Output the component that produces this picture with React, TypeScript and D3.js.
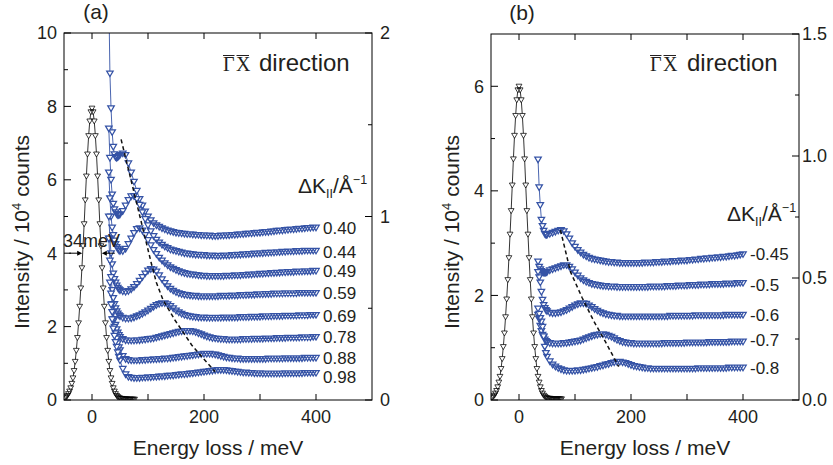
import React from 'react';
import * as d3 from 'd3';

const FONT = '"Liberation Sans", Arial, Helvetica, sans-serif';
const SERIF = '"Liberation Serif", "Times New Roman", serif';
const TEXT = '#231f20';
const BLUE = '#3553a6';

// ---------- data ----------
const elasticE = d3.range(-48, 77, 2);
const elasticA = [0.06,0.09,0.12,0.17,0.24,0.33,0.45,0.6,0.8,1.05,1.35,1.7,2.1,2.55,3.05,3.6,4.2,4.8,5.45,6.1,6.7,7.2,7.6,7.85,
  7.95,
  7.85,7.6,7.2,6.7,6.1,5.45,4.8,4.2,3.6,3.05,2.55,2.1,1.7,1.35,1.05,0.8,0.6,0.45,0.33,0.24,0.17,0.12,0.09,0.06,
  0.05,0.04,0.04,0.03,0.03,0.03,0.03,0.02,0.02,0.02,0.02,0.02,0.02,0.02];
const elasticB = [0.05,0.07,0.09,0.13,0.18,0.25,0.34,0.45,0.6,0.79,1.02,1.28,1.59,1.93,2.3,2.72,3.17,3.62,4.11,4.61,5.06,5.44,5.74,5.93,
  6.0,
  5.93,5.74,5.44,5.06,4.61,4.11,3.62,3.17,2.72,2.3,1.93,1.59,1.28,1.02,0.79,0.6,0.45,0.34,0.25,0.18,0.13,0.09,0.07,0.05,
  0.04,0.03,0.03,0.03,0.02,0.02,0.02,0.02,0.02,0.02,0.02,0.02,0.02,0.02];

const gridA = [30,32,34,36,38,40,42,44,46,48,50, ...d3.range(55, 401, 5)];
const gridB = [34,36,38,40,42,44,46,48,50, ...d3.range(55, 401, 5)];

const labelsA = ['0.40','0.44','0.49','0.59','0.69','0.78','0.88','0.98'];
const curveA040 = [11.0,8.9,7.95,7.3,6.9,6.7,6.62,6.6,6.62,6.65,6.68,
  6.72,6.68,6.45,6.2,5.95,5.7,5.48,5.3,5.14,5.0,4.9,4.82,4.76,4.72,4.68,4.65,4.62,4.6,4.58,4.56,
  4.55,4.54,4.53,4.52,4.52,4.51,4.5,4.5,4.49,4.49,
  4.48,4.48,4.47,4.47,4.47,4.48,4.48,4.49,4.49,4.5,
  4.5,4.51,4.52,4.52,4.53,4.54,4.54,4.55,4.56,4.56,
  4.57,4.58,4.58,4.59,4.6,4.61,4.62,4.62,4.63,4.64,
  4.65,4.65,4.66,4.67,4.67,4.68,4.69,4.69,4.7,4.7];
const curveA044 = [7.4,6.6,6.0,5.6,5.35,5.2,5.12,5.07,5.04,5.04,5.06,
  5.15,5.3,5.45,5.55,5.56,5.48,5.32,5.12,4.93,4.76,4.6,4.47,4.37,4.29,4.23,4.18,4.14,4.1,4.08,4.06,
  4.04,4.02,4.0,3.99,3.98,3.97,3.96,3.96,3.95,3.95,
  3.94,3.94,3.94,3.93,3.93,3.93,3.94,3.94,3.94,3.95,
  3.95,3.96,3.96,3.97,3.97,3.98,3.98,3.99,3.99,4.0,
  4.0,4.01,4.01,4.02,4.02,4.03,4.03,4.04,4.04,4.05,
  4.05,4.05,4.06,4.06,4.06,4.07,4.07,4.07,4.07,4.07];
const curveA049 = [6.2,5.5,5.0,4.7,4.5,4.35,4.25,4.17,4.12,4.08,4.06,
  4.06,4.12,4.25,4.4,4.55,4.66,4.68,4.62,4.5,4.36,4.22,4.09,3.98,3.88,3.8,3.73,3.67,3.62,3.58,3.54,
  3.51,3.48,3.46,3.44,3.43,3.42,3.41,3.4,3.39,3.39,
  3.38,3.38,3.38,3.38,3.38,3.38,3.38,3.39,3.39,3.39,
  3.4,3.4,3.4,3.41,3.41,3.42,3.42,3.43,3.43,3.44,
  3.44,3.45,3.45,3.46,3.46,3.47,3.47,3.48,3.48,3.49,
  3.49,3.49,3.5,3.5,3.5,3.51,3.51,3.51,3.52,3.52];
const curveA059 = [5.0,4.4,4.0,3.7,3.45,3.3,3.2,3.12,3.06,3.02,2.99,
  2.96,2.95,2.97,3.02,3.08,3.16,3.25,3.35,3.45,3.53,3.57,3.56,3.5,3.4,3.29,3.19,3.1,3.03,2.98,2.94,
  2.91,2.89,2.87,2.86,2.85,2.84,2.84,2.83,2.83,2.83,
  2.83,2.83,2.83,2.83,2.83,2.84,2.84,2.84,2.84,2.85,
  2.85,2.85,2.86,2.86,2.86,2.87,2.87,2.87,2.88,2.88,
  2.88,2.89,2.89,2.89,2.9,2.9,2.9,2.9,2.91,2.91,
  2.91,2.91,2.91,2.92,2.92,2.92,2.92,2.92,2.92,2.92];
const curveA069 = [4.4,3.8,3.35,3.0,2.78,2.62,2.5,2.42,2.36,2.31,2.28,
  2.24,2.22,2.22,2.23,2.25,2.28,2.31,2.35,2.39,2.44,2.49,2.54,2.59,2.62,2.64,2.64,2.61,2.56,2.5,2.44,
  2.39,2.35,2.32,2.3,2.28,2.27,2.26,2.25,2.25,2.25,
  2.24,2.24,2.24,2.24,2.24,2.24,2.25,2.25,2.25,2.25,
  2.25,2.25,2.26,2.26,2.26,2.26,2.27,2.27,2.27,2.27,
  2.28,2.28,2.28,2.28,2.29,2.29,2.29,2.29,2.3,2.3,
  2.3,2.3,2.3,2.31,2.31,2.31,2.31,2.32,2.32,2.32];
const curveA078 = [null,3.2,2.9,2.62,2.4,2.2,2.05,1.93,1.84,1.77,1.72,
  1.66,1.63,1.62,1.62,1.62,1.63,1.63,1.64,1.65,1.66,1.67,1.68,1.7,1.72,1.74,1.76,1.78,1.8,1.82,1.84,
  1.86,1.87,1.88,1.88,1.88,1.87,1.85,1.82,1.79,1.76,
  1.73,1.71,1.69,1.68,1.67,1.66,1.66,1.65,1.65,1.65,
  1.65,1.65,1.65,1.66,1.66,1.66,1.66,1.67,1.67,1.67,
  1.67,1.68,1.68,1.68,1.68,1.69,1.69,1.69,1.69,1.7,
  1.7,1.7,1.7,1.7,1.71,1.71,1.71,1.71,1.72,1.72];
const curveA088 = [null,null,2.6,2.4,2.2,2.0,1.82,1.68,1.55,1.44,1.36,
  1.2,1.12,1.09,1.08,1.08,1.08,1.08,1.09,1.09,1.1,1.1,1.11,1.11,1.12,1.12,1.13,1.13,1.14,1.15,1.16,
  1.17,1.18,1.19,1.2,1.21,1.22,1.23,1.24,1.25,1.26,
  1.26,1.26,1.25,1.24,1.22,1.2,1.18,1.16,1.15,1.14,
  1.13,1.13,1.12,1.12,1.12,1.12,1.12,1.12,1.12,1.12,
  1.12,1.12,1.13,1.13,1.13,1.13,1.13,1.13,1.14,1.14,
  1.14,1.14,1.14,1.14,1.14,1.15,1.15,1.15,1.15,1.15];
const curveA098 = [null,null,null,2.2,1.95,1.75,1.58,1.45,1.3,1.18,1.08,
  0.85,0.7,0.63,0.61,0.6,0.6,0.6,0.61,0.61,0.62,0.62,0.63,0.63,0.64,0.65,0.65,0.66,0.67,0.67,0.68,
  0.69,0.7,0.7,0.71,0.72,0.73,0.74,0.75,0.76,0.77,
  0.78,0.79,0.8,0.81,0.82,0.82,0.82,0.81,0.8,0.79,
  0.78,0.77,0.76,0.75,0.75,0.74,0.74,0.73,0.73,0.73,
  0.72,0.72,0.72,0.72,0.72,0.72,0.72,0.72,0.73,0.73,
  0.73,0.73,0.73,0.73,0.73,0.74,0.74,0.74,0.74,0.74];

const labelsB = ['-0.45','-0.5','-0.6','-0.7','-0.8'];
const curveBm045 = [4.6,4.07,3.73,3.45,3.33,3.24,3.18,3.16,3.16,
  3.18,3.2,3.22,3.24,3.25,3.23,3.17,3.09,3.0,2.93,2.87,2.82,2.78,2.75,2.72,2.7,2.69,2.68,2.67,2.66,
  2.65,2.64,2.64,2.63,2.63,2.62,2.62,2.62,2.62,2.62,
  2.62,2.62,2.62,2.62,2.63,2.63,2.63,2.63,2.64,2.64,
  2.64,2.65,2.65,2.65,2.66,2.66,2.66,2.67,2.67,2.67,
  2.68,2.68,2.69,2.69,2.7,2.7,2.71,2.71,2.72,2.72,
  2.73,2.73,2.74,2.74,2.75,2.76,2.76,2.77,2.78,2.79];
const curveBm05 = [2.65,2.55,2.5,2.47,2.45,2.44,2.44,2.44,2.45,
  2.48,2.5,2.52,2.54,2.56,2.58,2.58,2.55,2.5,2.44,2.38,2.33,2.29,2.26,2.24,2.22,2.21,2.2,2.19,2.18,
  2.18,2.17,2.17,2.17,2.16,2.16,2.16,2.16,2.16,2.16,
  2.16,2.16,2.16,2.16,2.16,2.16,2.17,2.17,2.17,2.17,
  2.17,2.17,2.18,2.18,2.18,2.18,2.19,2.19,2.19,2.19,
  2.2,2.2,2.2,2.2,2.21,2.21,2.21,2.21,2.22,2.22,
  2.22,2.22,2.22,2.23,2.23,2.23,2.23,2.24,2.24,2.24];
const curveBm06 = [2.45,2.35,2.25,2.07,1.92,1.82,1.76,1.72,1.7,
  1.67,1.66,1.66,1.67,1.68,1.7,1.72,1.75,1.78,1.81,1.83,1.85,1.85,1.84,1.81,1.78,1.74,1.71,1.68,1.66,
  1.64,1.63,1.62,1.61,1.61,1.6,1.6,1.6,1.6,1.6,
  1.6,1.6,1.6,1.6,1.6,1.6,1.6,1.6,1.6,1.6,
  1.6,1.6,1.6,1.61,1.61,1.61,1.61,1.61,1.61,1.61,
  1.61,1.61,1.62,1.62,1.62,1.62,1.62,1.62,1.62,1.62,
  1.62,1.62,1.62,1.63,1.63,1.63,1.63,1.63,1.63,1.63];
const curveBm07 = [1.63,1.55,1.42,1.32,1.25,1.2,1.16,1.13,1.11,
  1.09,1.08,1.08,1.08,1.08,1.09,1.09,1.1,1.11,1.12,1.13,1.14,1.16,1.18,1.2,1.22,1.24,1.25,1.26,1.26,
  1.25,1.23,1.21,1.18,1.15,1.13,1.11,1.1,1.09,1.09,
  1.08,1.08,1.08,1.08,1.08,1.08,1.08,1.08,1.08,1.08,
  1.08,1.09,1.09,1.09,1.09,1.09,1.09,1.09,1.09,1.1,
  1.1,1.1,1.1,1.1,1.1,1.1,1.1,1.11,1.11,1.11,
  1.11,1.11,1.11,1.11,1.11,1.12,1.12,1.12,1.12,1.12];
const curveBm08 = [1.75,1.65,1.57,1.5,1.4,1.22,1.02,0.9,0.83,
  0.74,0.68,0.64,0.61,0.59,0.57,0.56,0.56,0.56,0.56,0.57,0.57,0.58,0.59,0.6,0.61,0.62,0.63,0.65,0.66,
  0.68,0.69,0.71,0.72,0.73,0.73,0.72,0.71,0.69,0.67,
  0.65,0.64,0.63,0.62,0.61,0.61,0.6,0.6,0.6,0.6,
  0.6,0.6,0.6,0.6,0.6,0.6,0.6,0.6,0.6,0.6,
  0.6,0.6,0.6,0.61,0.61,0.61,0.61,0.61,0.61,0.61,
  0.61,0.61,0.61,0.61,0.62,0.62,0.62,0.62,0.62,0.62];

// dispersion guide lines (energy meV, intensity)
const dashAE = [52, 106, 115, 127, 148, 178, 196, 220];
const dashAV = [7.1, 3.72, 3.2, 2.72, 2.18, 1.5, 1.18, 0.77];
const dashBE = [74, 92, 113, 134, 154, 178];
const dashBV = [3.25, 2.45, 1.95, 1.5, 1.12, 0.64];

const xTicks = [0, 100, 200, 300, 400];
const xTickLabels = [0, 200, 400];

type Curve = (number | null)[];

interface PanelProps {
  left: number; right: number; top: number; bottom: number;
  yMax: number; yMajor: number[]; yMinor: number[];
  rMax: number; rMajor: number[]; rMinor: number[]; rFmt: (d: number) => string; rOff: number;
  elastic: number[];
  grid: number[]; curves: Curve[]; labels: string[]; labelOff: number[];
  dashE: number[]; dashV: number[];
  tag: string; tagX: number; tagY: number;
  gammaX: number; dirX: number;
  dkX: number; dkY: number;
  yTitleX: number;
  fwhm?: boolean;
  id: string;
}

function tri(cx: number, cy: number, s: number) {
  return `M${(cx - s).toFixed(2)},${(cy - s * 0.72).toFixed(2)}L${(cx + s).toFixed(2)},${(cy - s * 0.72).toFixed(2)}L${cx.toFixed(2)},${(cy + s).toFixed(2)}Z`;
}

function Panel(p: PanelProps) {
  const x = d3.scaleLinear().domain([-50, 500]).range([p.left, p.right]);
  const y = d3.scaleLinear().domain([0, p.yMax]).range([p.bottom, p.top]);
  const yr = d3.scaleLinear().domain([0, p.rMax]).range([p.bottom, p.top]);
  const line = d3.line<[number, number | null]>()
    .defined(d => d[1] != null)
    .x(d => x(d[0]))
    .y(d => y(d[1] as number));

  const elasticPts: [number, number][] = elasticE.map((e, i) => [e, p.elastic[i]]);
  const elasticPath = line(elasticPts as any) || '';
  const elasticMarks = elasticPts.map(d => tri(x(d[0]), y(d[1]), 2.9)).join('');

  const dash: [number, number][] = p.dashE.map((e, i) => [e, p.dashV[i]]);
  const clipId = `clip-${p.id}`;
  const midX = (p.left + p.right) / 2;

  return (
    <g>
      <defs>
        <clipPath id={clipId}>
          <rect x={p.left} y={p.top} width={p.right - p.left} height={p.bottom - p.top} />
        </clipPath>
      </defs>
      <g clipPath={`url(#${clipId})`}>
        <path d={elasticPath} fill="none" stroke="#000" strokeWidth={0.8} />
        <path d={elasticMarks} fill="#fff" stroke="#000" strokeWidth={0.75} />
        {p.curves.map((c, ci) => {
          const pts: [number, number | null][] = p.grid.map((e, i) => [e, c[i]]);
          const d = line(pts) || '';
          const marks = pts.filter(q => q[1] != null).map(q => tri(x(q[0]), y(q[1] as number), 3.25)).join('');
          return (
            <g key={ci}>
              <path d={d} fill="none" stroke={BLUE} strokeWidth={0.9} />
              <path d={marks} fill="#fff" stroke={BLUE} strokeWidth={1.25} />
            </g>
          );
        })}
        <path d={d3.line().x(d => x(d[0])).y(d => y(d[1]))(dash) || ''} fill="none" stroke="#111" strokeWidth={1.5} strokeDasharray="4 3" />
      </g>

      {/* frame */}
      <rect x={p.left} y={p.top} width={p.right - p.left} height={p.bottom - p.top} fill="none" stroke="#000" strokeWidth={1} />

      {/* x ticks */}
      {xTicks.map(t => (
        <g key={`xt${t}`}>
          <line x1={x(t)} x2={x(t)} y1={p.bottom} y2={p.bottom - 6} stroke="#000" />
          <line x1={x(t)} x2={x(t)} y1={p.top} y2={p.top + 6} stroke="#000" />
        </g>
      ))}
      {xTickLabels.map(t => (
        <text key={`xl${t}`} x={x(t)} y={p.bottom + 23} textAnchor="middle" fontSize={18} fill={TEXT}>{t}</text>
      ))}

      {/* left y ticks */}
      {p.yMajor.map(t => (
        <g key={`ym${t}`}>
          <line x1={p.left} x2={p.left + 7} y1={y(t)} y2={y(t)} stroke="#000" />
          <text x={p.left - 7} y={y(t)} dy="0.36em" textAnchor="end" fontSize={18} fill={TEXT}>{t}</text>
        </g>
      ))}
      {p.yMinor.map(t => (
        <line key={`yn${t}`} x1={p.left} x2={p.left + 4} y1={y(t)} y2={y(t)} stroke="#000" />
      ))}

      {/* right y ticks */}
      {p.rMajor.map(t => (
        <g key={`rm${t}`}>
          <line x1={p.right} x2={p.right - 7} y1={yr(t)} y2={yr(t)} stroke="#000" />
          <text x={p.right + p.rOff} y={yr(t)} dy="0.36em" textAnchor="start" fontSize={18} fill={TEXT}>{p.rFmt(t)}</text>
        </g>
      ))}
      {p.rMinor.map(t => (
        <line key={`rn${t}`} x1={p.right} x2={p.right - 4} y1={yr(t)} y2={yr(t)} stroke="#000" />
      ))}

      {/* curve labels */}
      {p.curves.map((c, ci) => {
        const last = c[c.length - 1] as number;
        return (
          <text key={`cl${ci}`} x={x(400) + 7} y={y(last) + p.labelOff[ci]} dy="0.36em" fontSize={17} fill={TEXT}>{p.labels[ci]}</text>
        );
      })}

      {/* axis titles */}
      <text x={midX} y={p.bottom + 55} textAnchor="middle" fontSize={21} fill={TEXT}>Energy loss / meV</text>
      <text transform={`translate(${p.yTitleX},232) rotate(-90)`} textAnchor="middle" fontSize={21} fill={TEXT}>
        Intensity / 10<tspan fontSize={13} dy={-8}>4</tspan><tspan dy={8}> counts</tspan>
      </text>

      {/* panel tag */}
      <text x={p.tagX} y={p.tagY} textAnchor="middle" fontSize={21} fill={TEXT}>{p.tag}</text>

      {/* direction label */}
      <text x={p.gammaX} y={70.5} fontFamily={SERIF} fontSize={20} fill={TEXT}>Γ</text>
      <text x={p.gammaX + 13} y={70.5} fontFamily={SERIF} fontSize={20} fill={TEXT}>X</text>
      <line x1={p.gammaX} x2={p.gammaX + 11.5} y1={55.5} y2={55.5} stroke={TEXT} strokeWidth={1} />
      <line x1={p.gammaX + 13.5} x2={p.gammaX + 26} y1={55.5} y2={55.5} stroke={TEXT} strokeWidth={1} />
      <text x={p.dirX} y={70.5} fontSize={24} fill={TEXT}>direction</text>

      {/* ΔK label */}
      <text x={p.dkX} y={p.dkY} fontSize={21} fill={TEXT}>
        ΔK<tspan fontSize={12.5} dy={5}>II</tspan><tspan dy={-5}>/Å</tspan><tspan fontSize={12.5} dy={-9}>−1</tspan>
      </text>

      {p.fwhm && (
        <g>
          <text x={63} y={247} fontSize={18} fill={TEXT}>34meV</text>
          <line x1={x(-17.5) - 13} x2={x(-17.5) - 4} y1={y(4)} y2={y(4)} stroke="#000" strokeWidth={1} />
          <path d={`M${x(-17.5)},${y(4)}L${x(-17.5) - 5},${y(4) - 2.5}L${x(-17.5) - 5},${y(4) + 2.5}Z`} fill="#000" />
          <line x1={x(17.5) + 13} x2={x(17.5) + 4} y1={y(4)} y2={y(4)} stroke="#000" strokeWidth={1} />
          <path d={`M${x(17.5)},${y(4)}L${x(17.5) + 5},${y(4) - 2.5}L${x(17.5) + 5},${y(4) + 2.5}Z`} fill="#000" />
        </g>
      )}
    </g>
  );
}

export default function App() {
  return (
    <svg width={833} height={465} style={{ position: 'absolute', left: 0, top: 0, background: '#fff' }} fontFamily={FONT}>
      <rect width={833} height={465} fill="#fff" />
      <Panel
        id="a" left={64} right={372} top={33} bottom={400}
        yMax={10} yMajor={[0, 2, 4, 6, 8, 10]} yMinor={[1, 3, 5, 7, 9]}
        rMax={2} rMajor={[0, 1, 2]} rMinor={[0.5, 1.5]} rFmt={d => String(d)} rOff={8}
        elastic={elasticA}
        grid={gridA}
        curves={[curveA040, curveA044, curveA049, curveA059, curveA069, curveA078, curveA088, curveA098]}
        labels={labelsA} labelOff={[0, 1, 0, 0, 1.5, 0, 0, 4]}
        dashE={dashAE} dashV={dashAV}
        tag="(a)" tagX={96} tagY={19}
        gammaX={223} dirX={259}
        dkX={298} dkY={193}
        yTitleX={28.6}
        fwhm
      />
      <Panel
        id="b" left={491} right={799} top={34} bottom={400}
        yMax={7} yMajor={[0, 2, 4, 6]} yMinor={[1, 3, 5]}
        rMax={1.5} rMajor={[0, 0.5, 1, 1.5]} rMinor={[0.25, 0.75, 1.25]} rFmt={d3.format('.1f')} rOff={3}
        elastic={elasticB}
        grid={gridB}
        curves={[curveBm045, curveBm05, curveBm06, curveBm07, curveBm08]}
        labels={labelsB} labelOff={[0, 2, 0, -2, 0]}
        dashE={dashBE} dashV={dashBV}
        tag="(b)" tagX={522} tagY={20}
        gammaX={650} dirX={687}
        dkX={727} dkY={221}
        yTitleX={459}
      />
    </svg>
  );
}
